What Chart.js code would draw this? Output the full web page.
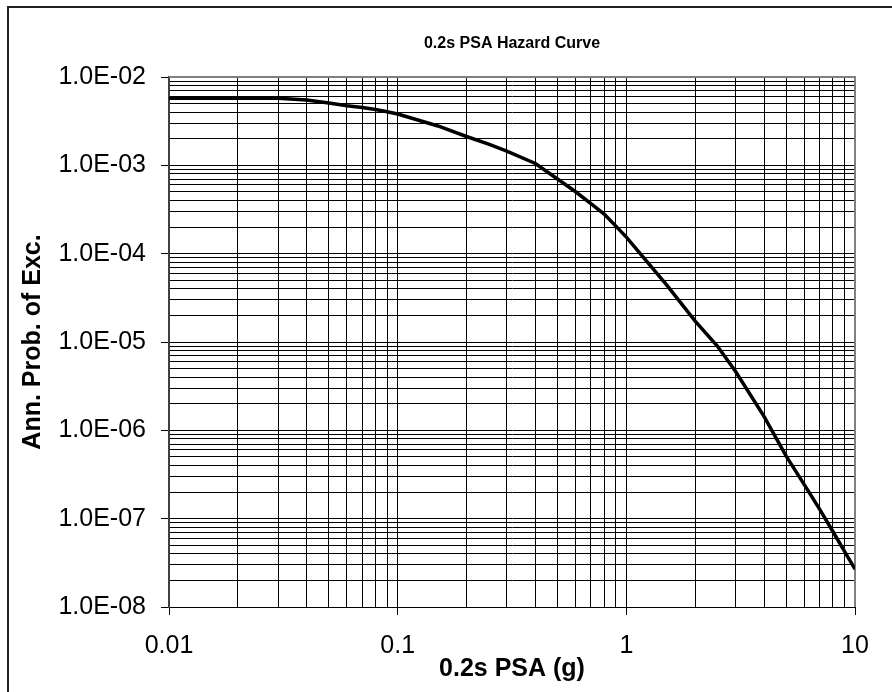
<!DOCTYPE html>
<html>
<head>
<meta charset="utf-8">
<script src="https://cdn.jsdelivr.net/npm/chart.js@4"></script>
<style>
  body { margin: 0; background: #fff; }
  canvas { display: block; }
</style>
</head>
<body>
<canvas id="hazardChart" width="892" height="692"></canvas>
<script>
// Hazard curve
const psa = [0.01, 0.02, 0.03, 0.04, 0.05, 0.06, 0.07, 0.08, 0.09, 0.1,
             0.15, 0.2, 0.25, 0.3, 0.4, 0.5, 0.6, 0.7, 0.8, 0.9, 1,
             1.5, 2, 2.5, 3, 4, 5, 6, 7, 8, 9, 10];
const annProb = [5.74e-3, 5.74e-3, 5.74e-3, 5.5e-3, 5.08e-3, 4.73e-3, 4.51e-3, 4.28e-3, 4.05e-3, 3.81e-3,
                 2.79e-3, 2.12e-3, 1.74e-3, 1.45e-3, 1.05e-3, 7.0e-4, 5.02e-4, 3.69e-4, 2.81e-4, 2.05e-4, 1.54e-4,
                 4.43e-5, 1.72e-5, 8.99e-6, 4.66e-6, 1.44e-6, 5.1e-7, 2.43e-7, 1.28e-7, 7.16e-8, 4.26e-8, 2.68e-8];

// Axis decades and their labels
const xDecades = [0.01, 0.1, 1, 10];
const xTickLabels = ["0.01", "0.1", "1", "10"];
const yDecades = [1e-8, 1e-7, 1e-6, 1e-5, 1e-4, 1e-3, 1e-2];
const yTickLabels = ["1.0E-08", "1.0E-07", "1.0E-06", "1.0E-05", "1.0E-04", "1.0E-03", "1.0E-02"];

Chart.defaults.font.family = "'Liberation Sans', Arial, sans-serif";
Chart.defaults.color = "#000";

// 1..9 in every decade, decades flagged as major
function logTicks(decades) {
    let ticks = [];
    for (let i = 0; i < decades.length - 1; i++) {
        for (let m = 1; m < 10; m++) {
            ticks.push({ value: m * decades[i], major: m === 1 });
        }
    }
    ticks.push({ value: decades[decades.length - 1], major: true });
    return ticks;
}

function decadeLabel(value, decades, labels) {
    let exp = Math.round(Math.log10(value));
    let i = decades.findIndex(d => Math.round(Math.log10(d)) === exp);
    return i >= 0 ? labels[i] : "";
}

const frame = {
    id: "frame",
    beforeDraw(chart) {
        const ctx = chart.ctx;
        ctx.save();
        ctx.fillStyle = "#fff";
        ctx.fillRect(0, 0, chart.width, chart.height);
        ctx.strokeStyle = "#222";
        ctx.lineWidth = 2;
        ctx.strokeRect(8, 7, 1000, 1000);
        ctx.restore();
    },
    beforeDatasetsDraw(chart) {
        const a = chart.chartArea;
        const ctx = chart.ctx;
        ctx.save();
        ctx.strokeStyle = "#808080";
        ctx.lineWidth = 2;
        ctx.beginPath();
        ctx.moveTo(a.left, a.top);
        ctx.lineTo(a.right, a.top);
        ctx.lineTo(a.right, a.bottom);
        ctx.stroke();
        ctx.restore();
    }
};

const majorTick = c => (c.tick && c.tick.major) ? "#000" : "rgba(0,0,0,0)";

new Chart(document.getElementById("hazardChart"), {
    type: "line",
    data: {
        datasets: [{
            label: "Hazard",
            data: psa.map((v, i) => ({ x: v, y: annProb[i] })),
            borderColor: "#000",
            borderWidth: 3.5,
            pointRadius: 0,
            tension: 0,
            fill: false
        }]
    },
    options: {
        responsive: false,
        animation: false,
        layout: { padding: { top: 0, left: 0, right: 37, bottom: 0 } },
        plugins: {
            legend: { display: false },
            tooltip: { enabled: false },
            title: {
                display: true,
                text: "0.2s PSA Hazard Curve",
                fullSize: false,
                font: { size: 16, weight: "bold" },
                padding: { top: 34, bottom: 23.8 }
            }
        },
        scales: {
            x: {
                type: "logarithmic",
                min: 0.01,
                max: 10,
                afterBuildTicks: s => { s.ticks = logTicks(xDecades); },
                afterFit: s => { s.height = 85; },
                ticks: {
                    autoSkip: false,
                    maxRotation: 0,
                    padding: 16,
                    font: { size: 25 },
                    callback: (v, i, t) => t[i].major ? decadeLabel(v, xDecades, xTickLabels) : ""
                },
                grid: { color: "#000", lineWidth: 1, tickLength: 8, tickColor: majorTick },
                border: { color: "#000", width: 1 },
                title: {
                    display: true,
                    text: "0.2s PSA (g)",
                    font: { size: 25, weight: "bold" },
                    padding: { top: 0, bottom: 8 }
                }
            },
            y: {
                type: "logarithmic",
                min: 1e-8,
                max: 1e-2,
                afterBuildTicks: s => { s.ticks = logTicks(yDecades); },
                afterFit: s => { s.width = 169; },
                ticks: {
                    autoSkip: false,
                    padding: 15,
                    font: { size: 25 },
                    callback: (v, i, t) => t[i].major ? decadeLabel(v, yDecades, yTickLabels) : ""
                },
                grid: { color: "#000", lineWidth: 1, tickLength: 8, tickColor: majorTick },
                border: { color: "#404040", width: 2 },
                title: {
                    display: true,
                    text: "Ann. Prob. of Exc.",
                    font: { size: 25, weight: "bold" },
                    padding: { top: 18, bottom: 0 }
                }
            }
        }
    },
    plugins: [frame]
});
</script>
</body>
</html>
